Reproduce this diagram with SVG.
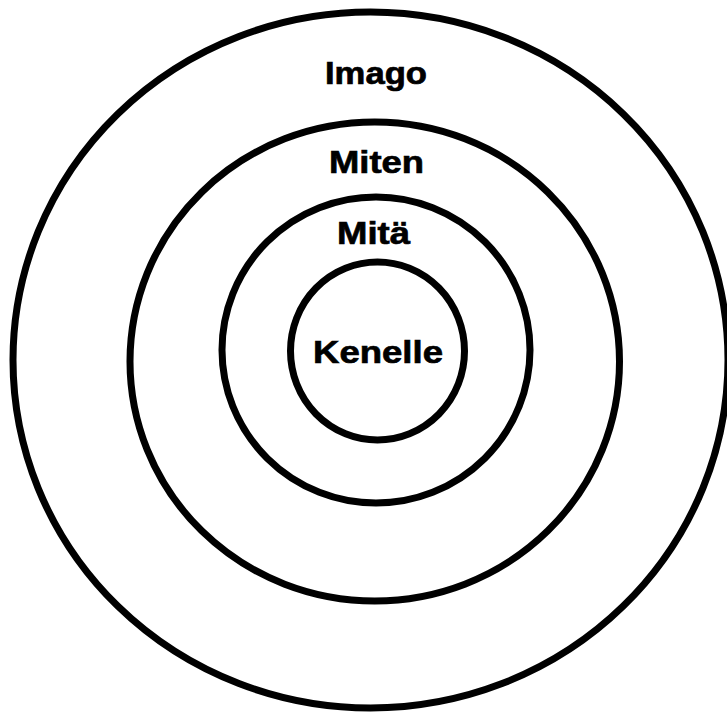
<svg xmlns="http://www.w3.org/2000/svg" width="727" height="713" viewBox="0 0 727 713">
<style>
.ring{fill:none;stroke:#000;stroke-width:7}
.lbl{font-family:"Liberation Sans",Arial,sans-serif;font-weight:bold;font-size:32px;fill:#000;stroke:#000;stroke-width:0.7;text-anchor:middle}
</style>
<rect width="727" height="713" fill="#fff"/>
<g id="imago">
<ellipse class="ring" cx="370.5" cy="360" rx="357.5" ry="348"/>
<text class="lbl" x="376" y="84" textLength="102" lengthAdjust="spacingAndGlyphs">Imago</text>
</g>
<g id="miten">
<ellipse class="ring" cx="374.75" cy="361.5" rx="244.75" ry="239.5"/>
<text class="lbl" x="376.5" y="173" textLength="95" lengthAdjust="spacingAndGlyphs">Miten</text>
</g>
<g id="mita">
<ellipse class="ring" cx="376" cy="350" rx="154" ry="153"/>
<text class="lbl" x="373.5" y="244" textLength="73" lengthAdjust="spacingAndGlyphs">Mitä</text>
</g>
<g id="kenelle">
<ellipse class="ring" cx="377.5" cy="351" rx="87" ry="89"/>
<text class="lbl" x="378" y="363" textLength="130" lengthAdjust="spacingAndGlyphs">Kenelle</text>
</g>
<g id="connectors"/>
</svg>
